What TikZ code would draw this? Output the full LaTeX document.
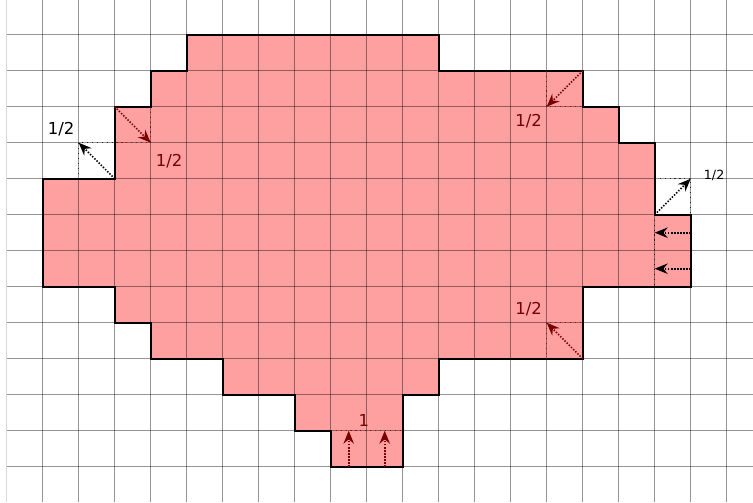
\documentclass[tikz,border=0pt]{standalone}
\usepackage{fontspec}
\setmainfont{DejaVu Sans}
\usetikzlibrary{arrows.meta}
\definecolor{shapefill}{RGB}{255,160,160}
\definecolor{darkred}{RGB}{120,0,0}
\tikzset{
  gridline/.style={draw=black, draw opacity=0.42, line width=0.8pt},
  outline/.style={draw=black, line width=1.3pt, line join=miter},
  guide/.style={line width=0.9pt, dash pattern=on 0.9pt off 3pt, draw opacity=0.75},
  flow/.style={line width=1.3pt, dash pattern=on 1.1pt off 1.3pt, -{Stealth[length=3.6mm,width=2.9mm,inset=1.2mm]}},
  lab/.style={font=\fontsize{13}{15}\selectfont, inner sep=0pt},
  smalllab/.style={font=\fontsize{10}{12}\selectfont, inner sep=0pt}
}
\begin{document}
\begin{tikzpicture}[x=1cm,y=1cm]
\useasboundingbox (-0.186,0.964) rectangle (20.73,-12.98);
% shape fill
\fill[shapefill] (5,0) -- (12,0) -- (12,-1) -- (16,-1) -- (16,-2) -- (17,-2) -- (17,-3) -- (18,-3) -- (18,-5) -- (19,-5) -- (19,-7) -- (16,-7) -- (16,-9) -- (12,-9) -- (12,-10) -- (11,-10) -- (11,-12) -- (9,-12) -- (9,-11) -- (8,-11) -- (8,-10) -- (6,-10) -- (6,-9) -- (4,-9) -- (4,-8) -- (3,-8) -- (3,-7) -- (1,-7) -- (1,-4) -- (3,-4) -- (3,-2) -- (4,-2) -- (4,-1) -- (5,-1) -- cycle;
% grid
\begin{scope}
\clip (0,0.964) rectangle (20.73,-12.98);
\foreach \i in {0,...,20} \draw[gridline] (\i,0.964) -- (\i,-12.98);
\foreach \j in {0,...,12} \draw[gridline] (0,-\j) -- (20.73,-\j);
\end{scope}
% outline
\draw[outline] (5,0) -- (12,0) -- (12,-1) -- (16,-1) -- (16,-2) -- (17,-2) -- (17,-3) -- (18,-3) -- (18,-5) -- (19,-5) -- (19,-7) -- (16,-7) -- (16,-9) -- (12,-9) -- (12,-10) -- (11,-10) -- (11,-12) -- (9,-12) -- (9,-11) -- (8,-11) -- (8,-10) -- (6,-10) -- (6,-9) -- (4,-9) -- (4,-8) -- (3,-8) -- (3,-7) -- (1,-7) -- (1,-4) -- (3,-4) -- (3,-2) -- (4,-2) -- (4,-1) -- (5,-1) -- cycle;
% guide lines
\draw[guide, darkred] (4,-2) -- (4,-3) -- (3,-3);
\draw[guide, black] (2,-4) -- (2,-3) -- (3,-3);
\draw[guide, darkred] (15,-1) -- (15,-2) -- (16,-2);
\draw[guide, black] (18,-4) -- (19,-4) -- (19,-5);
\draw[guide, black] (18,-5) -- (18,-7);
\draw[guide, darkred] (15,-9) -- (15,-8) -- (16,-8);
\draw[guide, darkred] (9,-11) -- (11,-11);
% arrows
\coordinate (tlA) at (3,-2); \coordinate (tlB) at (4,-3);
\coordinate (lA) at (3,-4);  \coordinate (lB) at (2,-3);
\coordinate (trA) at (16,-1); \coordinate (trB) at (15,-2);
\coordinate (rA) at (18,-5); \coordinate (rB) at (19,-4);
\coordinate (h1A) at (19,-5.5); \coordinate (h1B) at (18,-5.5);
\coordinate (h2A) at (19,-6.5); \coordinate (h2B) at (18,-6.5);
\coordinate (brA) at (16,-9); \coordinate (brB) at (15,-8);
\coordinate (b1A) at (9.5,-12); \coordinate (b1B) at (9.5,-11);
\coordinate (b2A) at (10.5,-12); \coordinate (b2B) at (10.5,-11);
\draw[flow, darkred] (tlA) -- (tlB);
\draw[flow, black] (lA) -- (lB);
\draw[flow, darkred] (trA) -- (trB);
\draw[flow, black] (rA) -- (rB);
\draw[flow, black] (h1A) -- (h1B);
\draw[flow, black] (h2A) -- (h2B);
\draw[flow, darkred] (brA) -- (brB);
\draw[flow, darkred] (b1A) -- (b1B);
\draw[flow, darkred] (b2A) -- (b2B);
% labels
\node[lab, text=darkred] (l1) at (4.51,-3.51) {1/2};
\node[lab, text=black] (l2) at (1.51,-2.62) {1/2};
\node[lab, text=darkred] (l3) at (14.5,-2.4) {1/2};
\node[smalllab, text=black] (l4) at (19.65,-3.9) {1/2};
\node[lab, text=darkred] (l5) at (14.5,-7.62) {1/2};
\node[lab, text=darkred] (l6) at (9.92,-10.72) {1};
\end{tikzpicture}
\end{document}
